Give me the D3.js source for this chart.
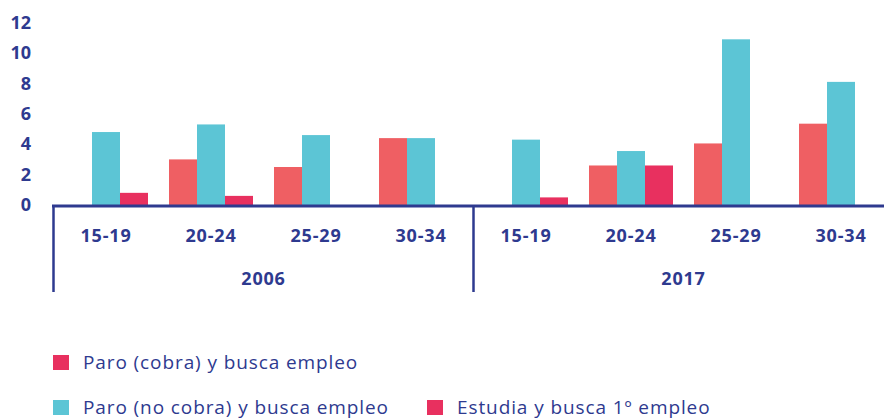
<!DOCTYPE html>
<html>
<head>
<meta charset="utf-8">
<script src="https://cdn.jsdelivr.net/npm/d3@7"></script>
<style>
  body { margin: 0; background: #fff; }
  svg { display: block; }
</style>
</head>
<body>
<div id="chart"></div>
<script>
// data
const years = ["2006", "2017"];
const ageGroups = ["15-19", "20-24", "25-29", "30-34"];
const seriesNames = ["Paro (cobra) y busca empleo", "Paro (no cobra) y busca empleo", "Estudia y busca 1º empleo"];
const paroCobra2006 = [0, 3.0, 2.5, 4.4];
const paroNoCobra2006 = [4.8, 5.3, 4.6, 4.4];
const estudia2006 = [0.8, 0.6, 0, 0];
const paroCobra2017 = [0, 2.6, 4.05, 5.35];
const paroNoCobra2017 = [4.3, 3.55, 10.9, 8.1];
const estudia2017 = [0.5, 2.6, 0, 0];
const yTicks = [0, 2, 4, 6, 8, 10, 12];

const barColors = ["#ef5f63", "#5cc5d5", "#e8305f"];
const legendColors = ["#e8305f", "#5cc5d5", "#e8305f"];
const navy = "#2e3a8f";
const font = "'Open Sans', sans-serif";

const W = 884, H = 419;
const svg = d3.select("#chart").append("svg")
  .attr("width", W).attr("height", H);

// build rows: one per year/age group
const rows = [];
years.forEach((yr, yi) => {
  const vals = yi === 0 ? [paroCobra2006, paroNoCobra2006, estudia2006]
                        : [paroCobra2017, paroNoCobra2017, estudia2017];
  ageGroups.forEach((ag, ai) => {
    rows.push({ key: yr + "|" + ag, year: yr, age: ag, values: vals.map(v => v[ai]) });
  });
});

const x = d3.scaleBand()
  .domain(rows.map(d => d.key))
  .range([53.5, 893.5]);

const xInner = d3.scaleBand()
  .domain(d3.range(seriesNames.length))
  .range([0, 84]);

const y = d3.scaleLinear()
  .domain([0, 12])
  .range([205, 22.6]);

// bars
const groups = svg.selectAll("g.grp")
  .data(rows)
  .enter().append("g")
    .attr("class", "grp")
    .attr("transform", d => "translate(" + (x(d.key) + x.bandwidth() / 2 - 42) + ",0)");

groups.selectAll("rect")
  .data(d => d.values.map((v, i) => ({ v: v, i: i })))
  .enter().append("rect")
    .attr("x", d => xInner(d.i))
    .attr("width", xInner.bandwidth())
    .attr("y", d => y(d.v))
    .attr("height", d => y(0) - y(d.v))
    .attr("fill", d => barColors[d.i]);

// y axis labels (no line)
const yAxis = svg.append("g")
  .attr("transform", "translate(31,0)")
  .call(d3.axisLeft(y).tickValues(yTicks).tickSize(0).tickPadding(0));
yAxis.select(".domain").remove();
yAxis.selectAll("text")
  .attr("fill", navy)
  .style("font-family", font)
  .style("font-weight", "700")
  .style("font-size", "18px");

// baseline and category frame
const x0 = x.range()[0];
svg.append("line")
  .attr("x1", x0 - 1.5).attr("x2", W)
  .attr("y1", y(0) + 1).attr("y2", y(0) + 1)
  .attr("stroke", navy).attr("stroke-width", 3);

const yearEdges = [x0, x(rows[ageGroups.length].key)];
svg.selectAll("line.sep")
  .data(yearEdges)
  .enter().append("line")
    .attr("class", "sep")
    .attr("x1", d => d).attr("x2", d => d)
    .attr("y1", y(0)).attr("y2", 292)
    .attr("stroke", navy).attr("stroke-width", 2.5);

// age group labels
svg.selectAll("text.age")
  .data(rows)
  .enter().append("text")
    .attr("class", "age")
    .attr("x", d => x(d.key) + x.bandwidth() / 2)
    .attr("y", 242)
    .attr("text-anchor", "middle")
    .attr("fill", navy)
    .style("font-family", font)
    .style("font-weight", "700")
    .style("font-size", "18px")
    .style("letter-spacing", "0.8px")
    .text(d => d.age);

// year labels
svg.selectAll("text.year")
  .data(years)
  .enter().append("text")
    .attr("class", "year")
    .attr("x", (d, i) => x(rows[i * ageGroups.length].key) + x.step() * 2)
    .attr("y", 285)
    .attr("text-anchor", "middle")
    .attr("fill", navy)
    .style("font-family", font)
    .style("font-weight", "700")
    .style("font-size", "18px")
    .style("letter-spacing", "0.8px")
    .text(d => d);

// legend
const legendPos = [[53, 355], [53, 400], [427, 400]];
const legend = svg.selectAll("g.leg")
  .data(seriesNames)
  .enter().append("g")
    .attr("class", "leg")
    .attr("transform", (d, i) => "translate(" + legendPos[i][0] + "," + legendPos[i][1] + ")");

legend.append("rect")
  .attr("width", 16).attr("height", 15)
  .attr("fill", (d, i) => legendColors[i]);

legend.append("text")
  .attr("x", 30).attr("y", 14)
  .attr("fill", navy)
  .style("font-family", font)
  .style("font-weight", "400")
  .style("font-size", "19px")
  .style("letter-spacing", "0.9px")
  .text(d => d);
</script>
</body>
</html>
